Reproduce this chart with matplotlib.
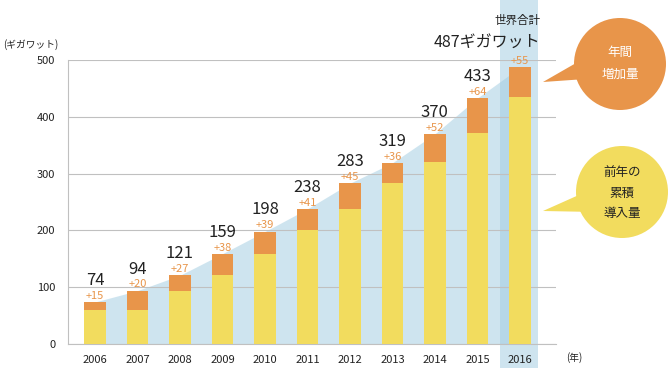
import matplotlib
matplotlib.use("Agg")
import matplotlib.pyplot as plt
from matplotlib.patches import Circle, Polygon

plt.rcParams['font.family'] = ['Noto Sans CJK JP', 'DejaVu Sans']

years = ['2006', '2007', '2008', '2009', '2010', '2011', '2012', '2013', '2014', '2015', '2016']
totals = [74, 94, 121, 159, 198, 238, 283, 319, 370, 433, 487]
increase = [15, 20, 27, 38, 39, 41, 45, 36, 52, 64, 55]
# yellow part as drawn in the picture (previous year's cumulative)
base = [60, 60, 94, 121, 159, 200, 238, 284, 320, 371, 434]

yellow = '#f2dc5e'
orange = '#e8954a'
blue = '#9fcbe0'
grid_c = '#c0c0c0'

fig = plt.figure(figsize=(6.69, 3.70), dpi=100)
ax = fig.add_axes([68 / 669, 26 / 370, 488 / 669, 284 / 370])

x = list(range(len(years)))

# light blue area following bar tops
ax.fill_between(x, totals, color=blue, alpha=0.5, lw=0, zorder=1)
# highlight band for 2016
ax.axvspan(9.53, 10.42, ymin=-0.085, ymax=1.22, color=blue, alpha=0.5, lw=0,
           zorder=1, clip_on=False)

ax.bar(x, base, width=0.5, color=yellow, zorder=3)
ax.bar(x, [t - b for t, b in zip(totals, base)], bottom=base, width=0.5,
       color=orange, zorder=3)

for i in x:
    ax.text(i, totals[i] + 2, '+%d' % increase[i], ha='center', va='bottom',
            fontsize=8, color=orange, zorder=4)
    if i < len(x) - 1:
        ax.text(i, totals[i] + 23, str(totals[i]), ha='center', va='bottom',
                fontsize=12, color='#222222', zorder=4)

ax.set_xlim(-0.635, 10.85)
ax.set_ylim(0, 500)
ax.set_yticks([0, 100, 200, 300, 400, 500])
ax.set_xticks(x)
ax.set_xticklabels(years)
ax.tick_params(length=0, labelsize=8, colors='#222222')
ax.tick_params(axis='x', pad=8)
ax.tick_params(axis='y', pad=9)
ax.grid(axis='y', color=grid_c, lw=0.8, zorder=2)
for s in ['top', 'right']:
    ax.spines[s].set_visible(False)
for s in ['left', 'bottom']:
    ax.spines[s].set_color(grid_c)
    ax.spines[s].set_linewidth(0.8)
    ax.spines[s].set_zorder(2)

# overlay in pixel coordinates for the annotations
ov = fig.add_axes([0, 0, 1, 1])
ov.set_xlim(0, 669)
ov.set_ylim(370, 0)
ov.axis('off')

ov.text(540, 20, '世界合計', ha='right', va='center', fontsize=8.3, color='#222222')
ov.text(540, 42, '%dギガワット' % totals[-1], ha='right', va='center',
        fontsize=11.5, color='#222222')

ov.text(3, 45, '(ギガワット)', fontsize=7, va='center', ha='left', color='#222222')
ov.text(566, 358, '(年)', fontsize=7, va='center', ha='left', color='#222222')

ov.add_patch(Polygon([[543, 82], [590, 55], [600, 78]], closed=True, color=orange, lw=0))
ov.add_patch(Circle((620, 64), 46, color=orange, lw=0))
ov.text(620, 52, '年間', ha='center', va='center', fontsize=9, color='white')
ov.text(620, 74, '増加量', ha='center', va='center', fontsize=9, color='white')

ov.add_patch(Polygon([[543, 211], [590, 190], [596, 212]], closed=True, color=yellow, lw=0))
ov.add_patch(Circle((622, 192), 46, color=yellow, lw=0))
ov.text(622, 172, '前年の', ha='center', va='center', fontsize=9, color='#222222')
ov.text(622, 193, '累積', ha='center', va='center', fontsize=9, color='#222222')
ov.text(622, 214, '導入量', ha='center', va='center', fontsize=9, color='#222222')

fig.savefig('out.png', dpi=100)
